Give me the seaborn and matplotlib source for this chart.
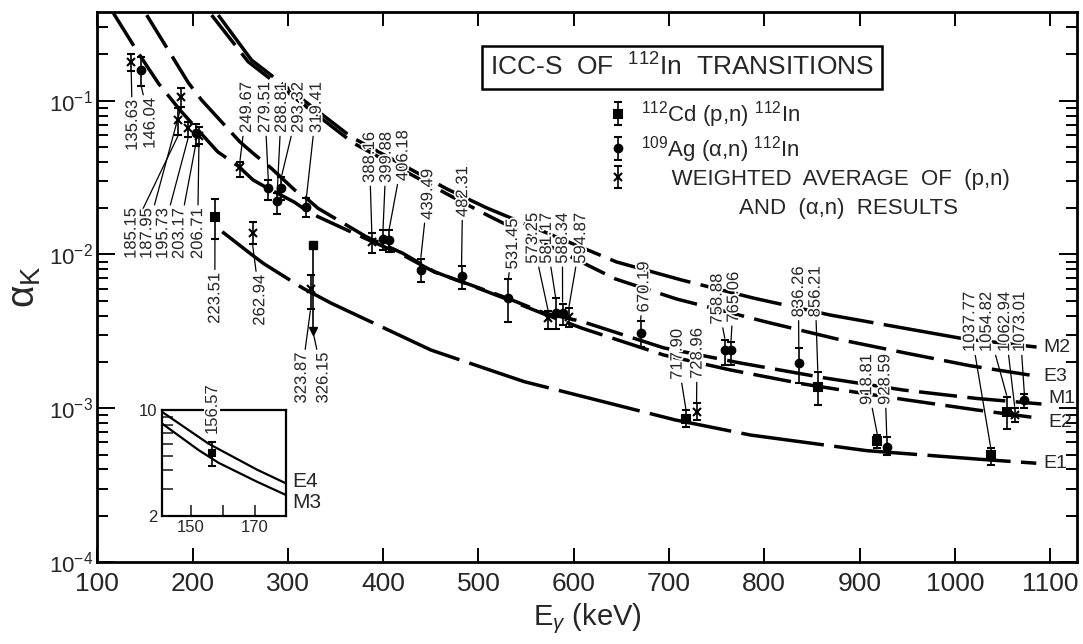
import numpy as np
import pandas as pd
import matplotlib
matplotlib.use("Agg")
import matplotlib.pyplot as plt
import matplotlib.patheffects as pe
from matplotlib.ticker import LogLocator, FixedLocator, NullFormatter, NullLocator
import seaborn as sns

# Curvas teóricas alpha_K
e1_e = [231.2, 262.6, 275.2, 316.0, 345.6, 450.3, 548.0, 706.8, 785.3, 907.5, 1026.1, 1085.5]
e1_a = [0.01406, 0.00992, 0.00868, 0.00603, 0.00482, 0.00239, 0.00149, 0.000839, 0.00067, 0.00053, 0.000466, 0.000439]

e2_e = [151.9, 195.6, 209.5, 249.6, 263.6, 282.8, 307.2, 317.7, 331.7, 382.3, 420.7, 453.8, 492.2,
        530.6, 568.9, 609.1, 694.5, 764.4, 840.8, 897.3, 949.6, 1022.9, 1090.9]
e2_a = [0.3607, 0.1309, 0.101, 0.0541, 0.0455, 0.0363, 0.02626, 0.02375, 0.01997, 0.01305, 0.01018, 0.00773, 0.00629,
        0.0051, 0.0041, 0.00331, 0.00222, 0.001775, 0.001439, 0.001268, 0.001133, 0.000975, 0.000858]

m1_e = [117.1, 142.2, 164.2, 186.8, 226.3, 247.9, 263.6, 279.3, 306.9, 317.3, 331.7, 380.2, 420.7, 453.8,
        492.2, 530.6, 568.9, 609.1, 694.5, 774.8, 863.7, 945.5, 1022.9, 1090.9]
m1_a = [0.370, 0.2083, 0.1297, 0.0870, 0.0466, 0.0376, 0.0305, 0.0269, 0.0219, 0.01976, 0.01761, 0.0128, 0.00992, 0.00769,
        0.00633, 0.00519, 0.00417, 0.00366, 0.00247, 0.00197, 0.001574, 0.001315, 0.001158, 0.001066]

m2_e = [227.0, 261.9, 366.6, 467.1, 509.0, 645.0, 713.1, 788.5, 869.1, 1005.2, 1085.8]
m2_a = [0.3607, 0.1839, 0.0581, 0.02666, 0.02006, 0.00894, 0.00683, 0.00521, 0.00404, 0.00286, 0.0025]

e3_e = [220.0, 258.4, 368.6, 467.1, 511.0, 643.9, 707.8, 802.1, 876.4, 949.4, 1016.2, 1085.3]
e3_a = [0.3607, 0.1793, 0.0531, 0.02473, 0.0178, 0.00693, 0.00514, 0.00364, 0.00282, 0.00228, 0.00189, 0.00162]

# Medidas: 112Cd(p,n)112In
pn_e = [223.51, 717.90, 856.21, 918.81, 1037.77, 1054.82]
pn_a = [0.01746, 0.000848, 0.00138, 0.00061, 0.000496, 0.00095]
pn_lo = [0.0127, 0.00076, 0.00105, 0.00055, 0.00043, 0.00073]
pn_hi = [0.0229, 0.000975, 0.00173, 0.00067, 0.00055, 0.00119]

# 326.15 keV: solo límite superior
lim_e = [326.15]
lim_a = [0.01153]
lim_to = [0.0032]

# Medidas: 109Ag(alpha,n)112In
an_e = [146.04, 203.17, 279.51, 288.81, 293.32, 319.41, 399.88, 406.18, 439.49, 482.31, 531.45, 581.17,
        588.34, 670.19, 758.88, 765.06, 836.26, 928.59, 1073.01]
an_a = [0.158, 0.062, 0.0269, 0.0223, 0.0269, 0.0203, 0.01256, 0.0124, 0.0079, 0.00725, 0.00519, 0.00415,
        0.00415, 0.0031, 0.00239, 0.00239, 0.00198, 0.00056, 0.00113]
an_lo = [0.125, 0.0511, 0.0226, 0.0183, 0.0226, 0.0175, 0.0107, 0.0104, 0.0066, 0.0060, 0.00366, 0.0033,
         0.0035, 0.0025, 0.0019, 0.0019, 0.00145, 0.00050, 0.00101]
an_hi = [0.193, 0.0706, 0.0305, 0.0250, 0.0321, 0.0232, 0.0144, 0.0144, 0.0094, 0.0084, 0.0069, 0.0052,
         0.0048, 0.0037, 0.0028, 0.0027, 0.00245, 0.00065, 0.00123]

# Promedio ponderado
avg_e = [135.63, 185.15, 187.95, 195.73, 206.71, 249.67, 262.94, 323.87, 388.16, 573.25, 594.87, 728.96, 1062.94]
avg_a = [0.178, 0.0749, 0.106, 0.066, 0.059, 0.0373, 0.0139, 0.00594, 0.0121, 0.00385, 0.00394, 0.00095, 0.000904]
avg_lo = [0.157, 0.0598, 0.0914, 0.0583, 0.0523, 0.0321, 0.0117, 0.0044, 0.0102, 0.0033, 0.0034, 0.00084, 0.00082]
avg_hi = [0.200, 0.0893, 0.1204, 0.0730, 0.0672, 0.0401, 0.0162, 0.00736, 0.0137, 0.0043, 0.0045, 0.00108, 0.00101]

# Recuadro: transición de 156.57 keV (E4 / M3)
e4_e = [141.0, 155.5, 170.5, 179.6]
e4_v = [9.75, 6.0, 4.05, 3.28]
m3_e = [141.0, 152.4, 158.6, 170.5, 179.6]
m3_v = [8.17, 5.45, 4.49, 3.37, 2.75]
ins_e = [156.57]
ins_a = [5.23]
ins_lo = [4.27]
ins_hi = [6.18]

# Posición de las etiquetas de energía (E, alpha) del extremo del texto
label_up = {
    249.67: (256.6, 0.0617), 279.51: (275.8, 0.0617), 288.81: (293.3, 0.0617), 293.32: (310.8, 0.0617),
    319.41: (329.9, 0.0617), 388.16: (385.7, 0.0292), 399.88: (403.2, 0.0292), 406.18: (420.7, 0.0300),
    439.49: (446.8, 0.0168), 482.31: (483.5, 0.0175), 531.45: (535.8, 0.0080), 573.25: (556.8, 0.0087),
    581.17: (571.4, 0.0087), 588.34: (588.2, 0.0087), 594.87: (607.3, 0.0087), 670.19: (673.6, 0.0042),
    717.90: (708.6, 0.00153), 728.96: (729.5, 0.00155), 758.88: (750.5, 0.0035), 765.06: (767.8, 0.0036),
    836.26: (835.9, 0.0039), 856.21: (853.4, 0.0039), 918.81: (907.5, 0.00105), 928.59: (926.6, 0.00105),
    1037.77: (1015.6, 0.00232), 1054.82: (1033.1, 0.00232), 1062.94: (1052.3, 0.00232), 1073.01: (1068.0, 0.00232),
}
label_down = {
    135.63: (136.9, 0.101), 146.04: (155.4, 0.104), 185.15: (135.5, 0.0200), 187.95: (151.9, 0.0200),
    195.73: (168.7, 0.0200), 203.17: (185.7, 0.0200), 206.71: (205.3, 0.0200), 223.51: (223.4, 0.0076),
    262.94: (270.6, 0.0074), 323.87: (314.2, 0.0023), 326.15: (336.9, 0.0023),
}
# desplazamiento vertical (pt) del nombre de cada curva
name_shift = {"E1": 0, "E2": -3, "M1": 4, "M2": 0, "E3": 0}

sns.set_theme(style="ticks")
plt.rcParams["font.family"] = ["Liberation Sans", "DejaVu Sans"]
plt.rcParams["mathtext.fontset"] = "custom"
plt.rcParams["mathtext.rm"] = "Liberation Sans"
plt.rcParams["mathtext.it"] = "Liberation Sans:italic"
plt.rcParams["mathtext.bf"] = "Liberation Sans:bold"

names = ["E1", "E2", "M1", "M2", "E3"]
curve_e = [e1_e, e2_e, m1_e, m2_e, e3_e]
curve_a = [e1_a, e2_a, m1_a, m2_a, e3_a]
curves = pd.concat(
    [pd.DataFrame({"E": e, "alpha": a, "mult": n}) for n, e, a in zip(names, curve_e, curve_a)],
    ignore_index=True,
)
inset_curves = pd.concat(
    [pd.DataFrame({"E": e4_e, "value": e4_v, "mult": "E4"}),
     pd.DataFrame({"E": m3_e, "value": m3_v, "mult": "M3"})],
    ignore_index=True,
)

fig = plt.figure(figsize=(10.83, 6.44), dpi=100)
ax = fig.add_axes([0.0898, 0.1273, 0.9049, 0.854])

sns.lineplot(
    data=curves, x="E", y="alpha", hue="mult", style="mult",
    palette={n: "black" for n in names},
    dashes={"E1": (24, 3), "M2": (24, 3), "E3": (11, 3), "M1": (11, 3), "E2": (11, 3)},
    linewidth=2.5, sort=False, estimator=None, legend=False, ax=ax, zorder=2,
)
ax.set_yscale("log")


def draw_points(axis, e, a, lo, hi, marker, ms, label):
    yerr = [np.subtract(a, lo), np.subtract(hi, a)]
    return axis.errorbar(
        e, a, yerr=yerr, fmt=marker, ms=ms, color="black", ecolor="black",
        elinewidth=1.2, capsize=2.6, capthick=1.2, mew=1.5, label=label, zorder=6,
    )


h_pn = draw_points(ax, pn_e, pn_a, pn_lo, pn_hi, "s", 5.5, "pn")
h_an = draw_points(ax, an_e, an_a, an_lo, an_hi, "o", 5.5, "an")
h_avg = draw_points(ax, avg_e, avg_a, avg_lo, avg_hi, "x", 6, "avg")

# límite superior (flecha hacia abajo)
ax.errorbar(lim_e, lim_a, yerr=[np.subtract(lim_a, lim_to), np.zeros(1)], fmt="s", ms=5.5,
            color="black", elinewidth=1.2, capsize=0, zorder=6)
ax.plot(lim_e, lim_to, marker="v", ms=6, color="black", ls="none", zorder=6)

# etiquetas de energía con líneas guía
all_e = pn_e + an_e + avg_e + lim_e
all_lo = pn_lo + an_lo + avg_lo + lim_to
all_hi = pn_hi + an_hi + avg_hi + lim_a
lo_of = dict(zip(all_e, all_lo))
hi_of = dict(zip(all_e, all_hi))
halo = [pe.withStroke(linewidth=2.5, foreground="white")]
leader = dict(arrowstyle="-", lw=0.9, color="black", shrinkA=0, shrinkB=1)
for e, (lx, ly) in label_up.items():
    ax.annotate(f"{e:.2f}", xy=(e, hi_of[e]), xytext=(lx, ly), rotation=90, ha="center", va="bottom",
                fontsize=12, arrowprops=leader, path_effects=halo, zorder=5)
for e, (lx, ly) in label_down.items():
    ax.annotate(f"{e:.2f}", xy=(e, lo_of[e]), xytext=(lx, ly), rotation=90, ha="center", va="top",
                fontsize=12, arrowprops=leader, path_effects=halo, zorder=5)

# nombres de las multipolaridades al final de cada curva
for n, e, a in zip(names, curve_e, curve_a):
    ax.annotate(n, xy=(e[-1], a[-1]), xytext=(5, name_shift[n]), textcoords="offset points",
                fontsize=14, ha="left", va="center")

ax.set_xlim(100, 1128.5)
ax.set_ylim(1e-4, 0.3774)
ax.set_xticks(np.arange(100, 1101, 100))
ax.xaxis.set_minor_locator(NullLocator())
ax.yaxis.set_major_locator(LogLocator(base=10, numticks=10))
ax.yaxis.set_minor_locator(LogLocator(base=10, subs=np.arange(2, 10), numticks=20))
ax.yaxis.set_minor_formatter(NullFormatter())
ax.tick_params(which="both", direction="in", top=True, right=True, width=1.4, color="black")
ax.tick_params(axis="x", which="major", length=10, labelsize=19, pad=7)
ax.tick_params(axis="y", which="major", length=13, labelsize=16, pad=3)
ax.tick_params(axis="y", which="minor", length=8)
for s in ax.spines.values():
    s.set_linewidth(2)
    s.set_color("black")
ax.set_xlabel(r"E$_{\gamma}$ (keV)", fontsize=21, labelpad=4)
ax.set_ylabel(r"α$_\mathrm{K}$", fontsize=28, labelpad=4)

ax.text(0.4007, 0.9, r"ICC-S  OF  $^{112}$In  TRANSITIONS", transform=ax.transAxes, fontsize=19,
        ha="left", va="center", zorder=7,
        bbox=dict(boxstyle="square,pad=0.3", fc="white", ec="black", lw=1.8))

leg = ax.legend(
    handles=[h_pn, h_an, h_avg],
    labels=[r"$^{112}$Cd (p,n) $^{112}$In", r"$^{109}$Ag (α,n) $^{112}$In", "     WEIGHTED  AVERAGE  OF  (p,n)"],
    loc="upper left", bbox_to_anchor=(0.523, 0.842), frameon=False, fontsize=16,
    handlelength=0.7, handletextpad=0.7, labelspacing=0.18, borderpad=0, borderaxespad=0,
)
ax.text(0.767, 0.642, "AND  (α,n)  RESULTS", transform=ax.transAxes, fontsize=16, ha="center", va="center")

# recuadro
axin = fig.add_axes([0.1493, 0.1988, 0.1148, 0.1646])
sns.lineplot(data=inset_curves, x="E", y="value", units="mult", estimator=None, color="black",
             linewidth=1.6, sort=False, legend=False, ax=axin)
axin.set_yscale("log")
draw_points(axin, ins_e, ins_a, ins_lo, ins_hi, "s", 5, "inset")
axin.set_xlim(141, 179.6)
axin.set_ylim(2, 10)
axin.set_xticks([150, 160, 170])
axin.set_xticklabels(["150", "", "170"])
axin.yaxis.set_major_locator(FixedLocator([2, 10]))
axin.set_yticklabels(["2", "10"])
axin.yaxis.set_minor_locator(FixedLocator([3, 4, 5, 6, 7, 8, 9]))
axin.yaxis.set_minor_formatter(NullFormatter())
axin.xaxis.set_minor_locator(NullLocator())
axin.tick_params(which="both", direction="in", top=False, right=False, length=8, width=1.2, labelsize=12, pad=3)
for s in axin.spines.values():
    s.set_linewidth(1.6)
    s.set_color("black")
axin.set_xlabel("")
axin.set_ylabel("")
axin.text(ins_e[0], 7.05, f"{ins_e[0]:.2f}", rotation=90, ha="center", va="bottom", fontsize=12,
          clip_on=False, zorder=10, bbox=dict(fc="white", ec="none", pad=0.5))
axin.text(e4_e[-1] + 2, 3.4, "E4", fontsize=15, ha="left", va="center", clip_on=False)
axin.text(m3_e[-1] + 2, 2.45, "M3", fontsize=15, ha="left", va="center", clip_on=False)

fig.savefig("out.png", dpi=100)
